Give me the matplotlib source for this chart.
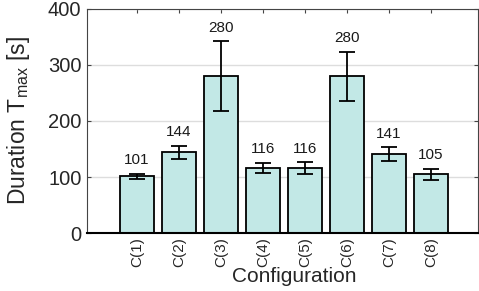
import matplotlib.pyplot as plt
import numpy as np

configs = ["C(1)", "C(2)", "C(3)", "C(4)", "C(5)", "C(6)", "C(7)", "C(8)"]
durations = [101, 144, 280, 116, 116, 280, 141, 105]
errors = [5, 12, 62, 9, 10, 44, 12, 10]

plt.rcParams["font.family"] = ["Liberation Sans", "DejaVu Sans"]

fig = plt.figure(figsize=(4.79, 2.91), dpi=100)
ax = fig.add_axes([0.1816, 0.1993, 0.8163, 0.7698])

x = np.arange(1, len(configs) + 1)
ax.bar(x, durations, width=0.8, color="#c2e8e6", edgecolor="black", linewidth=1.3, zorder=2)
ax.errorbar(x, durations, yerr=errors, fmt="none", ecolor="black", elinewidth=1.3,
            capsize=5.8, capthick=1.3, zorder=3)

# value labels above the error bars
for xi, d, e in zip(x, durations, errors):
    ax.annotate(str(d), (xi, d + e), xytext=(0, 4.8), textcoords="offset points",
                ha="center", va="bottom", fontsize=11, color="#1a1a1a")

ax.set_xlim(-0.19, 9.12)
ax.set_ylim(0, 400)
ax.set_yticks([0, 100, 200, 300, 400])
ax.set_xticks(x)
ax.set_xticklabels(configs, rotation=90, fontsize=11, color="#262626")
ax.tick_params(axis="y", labelsize=14.5, colors="#262626", pad=4)
ax.tick_params(axis="x", pad=3)
ax.tick_params(direction="in", top=True, right=True, length=3, color="#444444")
ax.grid(axis="y", color="#dddddd", linewidth=1, zorder=0)
ax.set_axisbelow(True)

for side in ["left", "top", "right"]:
    ax.spines[side].set_color("#444444")
ax.spines["bottom"].set_linewidth(1.5)

ax.set_ylabel("Duration T$_\\mathregular{max}$ [s]", fontsize=16.5, color="#262626")
ax.yaxis.set_label_coords(-0.14, 0.5)
ax.set_xlabel("Configuration", fontsize=15, color="#262626", va="top")
ax.xaxis.set_label_coords(0.531, -0.152)

fig.savefig("out.png", dpi=100)
